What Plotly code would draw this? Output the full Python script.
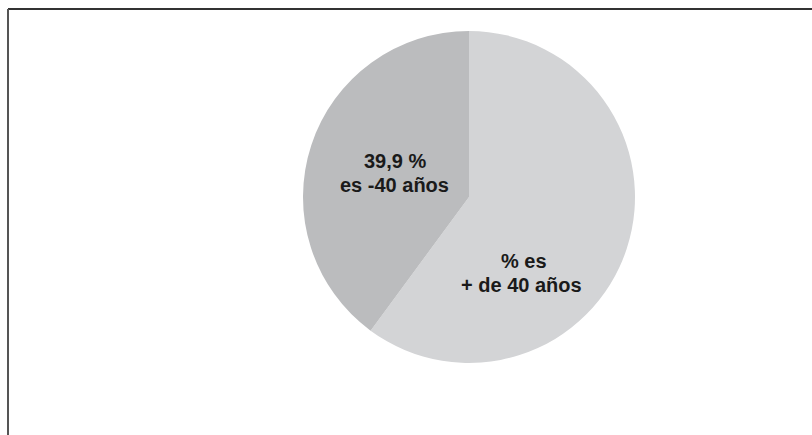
import plotly.graph_objects as go

labels = ["es + de 40 años", "es -40 años"]
values = [60.1, 39.9]
colors = ["#d3d4d6", "#bbbcbe"]
text_lines = [["% es", "+ de 40 años"], ["39,9 %", "es -40 años"]]

W, H = 812, 435
cx, cy, r = 469, 197, 166

fig = go.Figure(go.Pie(
    labels=labels, values=values, sort=False, direction="clockwise",
    rotation=0, marker=dict(colors=colors, line=dict(width=0)),
    textinfo="none", hoverinfo="skip", showlegend=False,
    domain=dict(x=[(cx - r) / W, (cx + r) / W], y=[(H - cy - r) / H, (H - cy + r) / H]),
))

# label positions (pixels) for each line
label_pos = [[(524, 261), (521, 285)], [(395, 161), (394, 185)]]
for lines, poss in zip(text_lines, label_pos):
    for t, (px, py) in zip(lines, poss):
        fig.add_annotation(x=px / W, y=1 - py / H, xref="paper", yref="paper",
                           text="<b>%s</b>" % t, showarrow=False,
                           font=dict(family="Liberation Sans, Arial", size=20, color="#1a1a1a"),
                           xanchor="center", yanchor="middle")

# frame lines (top and left)
fig.add_shape(type="line", xref="paper", yref="paper", x0=8 / W, x1=1, y0=1 - 9 / H, y1=1 - 9 / H,
              line=dict(color="#333333", width=2))
fig.add_shape(type="line", xref="paper", yref="paper", x0=8 / W, x1=8 / W, y0=0, y1=1 - 9 / H,
              line=dict(color="#555555", width=2))

fig.update_layout(width=W, height=H, margin=dict(l=0, r=0, t=0, b=0),
                  paper_bgcolor="white", plot_bgcolor="white")
fig.write_html("out.html")
